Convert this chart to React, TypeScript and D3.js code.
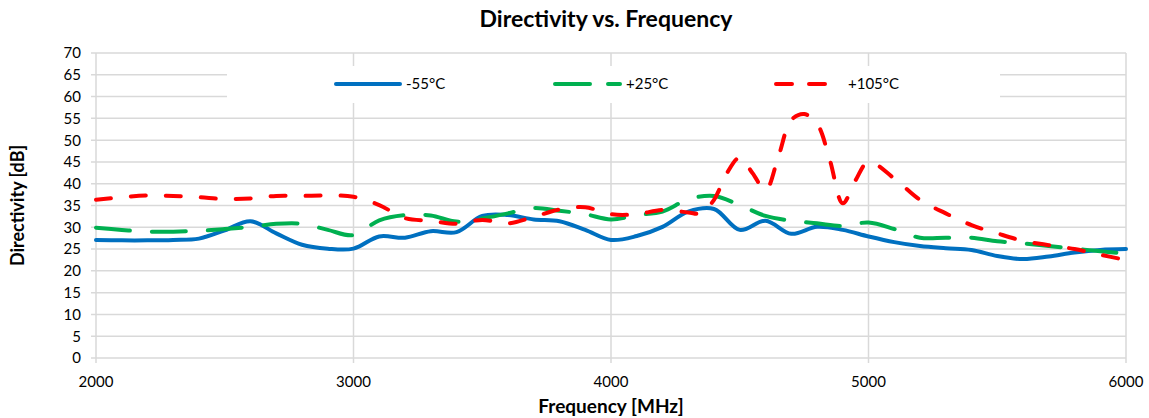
import React from "react"
import * as d3 from "d3"

const W = 1149
const H = 418

const freqs = [
  2000, 2100, 2200, 2300, 2400, 2500, 2600, 2700, 2800, 2900, 3000, 3100, 3200, 3300, 3400, 3500, 3600, 3700,
  3800, 3900, 4000, 4100, 4200, 4300, 4400, 4500, 4600, 4700, 4800, 4900, 5000, 5100, 5200, 5300, 5400, 5500,
  5600, 5700, 5800, 5900, 6000,
]

const minus55 = [
  27.1, 27.0, 27.0, 27.1, 27.4, 29.3, 31.4, 28.6, 26.0, 25.1, 25.1, 27.9, 27.6, 29.1, 28.9, 32.6, 32.8, 31.8,
  31.4, 29.4, 27.1, 28.0, 30.1, 33.6, 34.2, 29.4, 31.5, 28.5, 30.1, 29.4, 27.9, 26.6, 25.7, 25.2, 24.8, 23.4,
  22.7, 23.3, 24.2, 24.8, 25.0,
]

const plus25 = [
  29.9, 29.4, 29.0, 29.0, 29.2, 29.6, 30.1, 30.8, 30.8, 29.4, 28.2, 31.6, 32.8, 32.7, 31.3, 32.0, 33.2, 34.4,
  33.8, 33.0, 31.8, 32.8, 33.6, 36.4, 37.2, 35.1, 32.6, 31.5, 30.9, 30.3, 31.1, 29.6, 27.6, 27.6, 27.6, 26.8,
  26.3, 25.7, 25.1, 24.5, 24.0,
]

// finer sampling around the resonance peaks
const freqs105 = [
  2000, 2100, 2200, 2300, 2400, 2500, 2600, 2700, 2800, 2900, 3000, 3100, 3200, 3300, 3400, 3500, 3600, 3700,
  3800, 3900, 4000, 4100, 4200, 4300, 4350, 4400, 4450, 4500, 4550, 4600, 4650, 4700, 4750, 4800, 4850, 4900,
  4950, 5000, 5100, 5200, 5300, 5400, 5500, 5600, 5700, 5800, 5900, 6000,
]

const plus105 = [
  36.3, 36.9, 37.3, 37.2, 36.9, 36.5, 36.6, 37.2, 37.2, 37.3, 37.0, 35.1, 32.1, 31.5, 30.8, 31.7, 30.9, 32.4,
  34.1, 34.6, 33.0, 33.0, 34.0, 33.4, 33.2, 36.3, 42.4, 46.0, 42.4, 38.5, 46.2, 54.6, 56.0, 53.8, 45.4, 35.5,
  40.8, 45.0, 41.2, 36.3, 33.2, 30.5, 28.6, 26.9, 25.9, 25.0, 23.7, 22.5,
]

const xTicks = [2000, 3000, 4000, 5000, 6000]
const yTicks = [0, 5, 10, 15, 20, 25, 30, 35, 40, 45, 50, 55, 60, 65, 70]

const series = [
  { name: "-55°C", x: freqs, y: minus55, color: "#0070C0", dash: "none" },
  { name: "+25°C", x: freqs, y: plus25, color: "#00B050", dash: "34 22" },
  { name: "+105°C", x: freqs105, y: plus105, color: "#FF0000", dash: "15 20" },
]

const FONT = "Lato, 'Open Sans', sans-serif"

export default function App() {
  const margin = { left: 96, right: 23, top: 53, bottom: 60 }
  const x = d3.scaleLinear().domain([2000, 6000]).range([margin.left, W - margin.right])
  const y = d3.scaleLinear().domain([0, 70]).range([H - margin.bottom, margin.top])
  const grid = "#d9d9d9"

  const line = d3
    .line<[number, number]>()
    .x((d) => x(d[0]))
    .y((d) => y(d[1]))
    .curve(d3.curveCatmullRom.alpha(0.5))

  const legendItems = [
    { x1: 336, x2: 400, tx: 406, dash: "none" },
    { x1: 555, x2: 620, tx: 626, dash: "35 18" },
    { x1: 776, x2: 829, tx: 848, dash: "16 17" },
  ]

  return (
    <svg width={W} height={H} style={{ position: "absolute", left: 0, top: 0, background: "#fff" }} fontFamily={FONT}>
      {/* grid */}
      {yTicks.map((t) => (
        <line key={"gy" + t} x1={x(2000) - 5} x2={x(6000)} y1={y(t)} y2={y(t)} stroke={grid} strokeWidth={1.5} />
      ))}
      {xTicks.map((t) => (
        <line key={"gx" + t} x1={x(t)} x2={x(t)} y1={y(70)} y2={y(0) + 5} stroke={grid} strokeWidth={1.5} />
      ))}

      {/* tick labels */}
      {yTicks.map((t) => (
        <text key={"ty" + t} x={x(2000) - 15} y={y(t)} dy="0.36em" textAnchor="end" fontSize={15} fill="#000">
          {t}
        </text>
      ))}
      {xTicks.map((t) => (
        <text key={"tx" + t} x={x(t)} y={y(0) + 29} textAnchor="middle" fontSize={15} fill="#000">
          {t}
        </text>
      ))}

      {/* series */}
      {series.map((s) => (
        <path
          key={s.name}
          d={line(s.x.map((f, i) => [f, s.y[i]] as [number, number])) || ""}
          fill="none"
          stroke={s.color}
          strokeWidth={4}
          strokeDasharray={s.dash}
          strokeLinecap="round"
          strokeLinejoin="round"
        />
      ))}

      {/* legend */}
      <rect x={227} y={66} width={773} height={37} fill="#fff" />
      {series.map((s, i) => (
        <g key={"lg" + s.name}>
          <line
            x1={legendItems[i].x1}
            x2={legendItems[i].x2}
            y1={84}
            y2={84}
            stroke={s.color}
            strokeWidth={4}
            strokeDasharray={legendItems[i].dash}
            strokeLinecap="round"
          />
          <text x={legendItems[i].tx} y={84} dy="0.36em" fontSize={15} fill="#000">
            {s.name}
          </text>
        </g>
      ))}

      {/* titles */}
      <text x={606} y={27} textAnchor="middle" fontSize={23} fontWeight="bold" fill="#000">
        Directivity vs. Frequency
      </text>
      <text x={611} y={413} textAnchor="middle" fontSize={19} fontWeight="bold" fill="#000">
        Frequency [MHz]
      </text>
      <text
        transform={`translate(24,${(y(0) + y(70)) / 2}) rotate(-90)`}
        textAnchor="middle"
        fontSize={18}
        fontWeight="bold"
        fill="#000"
      >
        Directivity [dB]
      </text>
    </svg>
  )
}
